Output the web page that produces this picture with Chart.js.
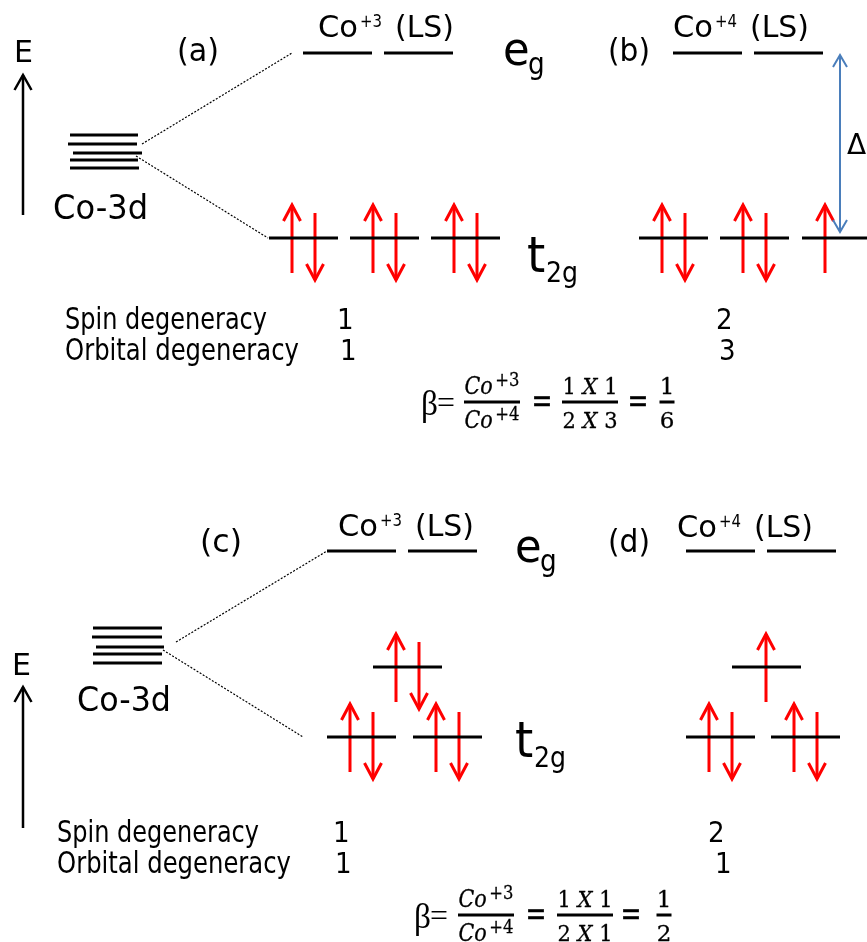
<!DOCTYPE html>
<html>
<head>
<meta charset="utf-8">
<title>Co-3d crystal field splitting</title>
<script src="https://cdn.jsdelivr.net/npm/chart.js@4.4.1/dist/chart.umd.min.js"></script>
<style>
  html, body { margin: 0; padding: 0; background: #ffffff; }
  canvas { display: block; }
</style>
</head>
<body>
<canvas id="diagram" width="867" height="942" style="width:867px;height:942px"></canvas>
<script>
// ---- data ----------------------------------------------------------------
const panelTags = ['(a)', '(b)', '(c)', '(d)'];
const ionCharges = ['+3', '+4', '+3', '+4'];
const spinStateTag = '(LS)';
const degeneracyRows = ['Spin degeneracy', 'Orbital degeneracy'];
const spinDegeneracy = [1, 2, 1, 2];
const orbitalDegeneracy = [1, 3, 1, 1];
// electrons held by each t2g orbital (panels c and d: upper orbital first)
const t2gElectrons = [[2, 2, 2], [2, 2, 1], [2, 2, 2], [1, 2, 2]];
// eg orbitals stay empty in the low-spin state
const egElectrons = [[0, 0], [0, 0], [0, 0], [0, 0]];
const d3SublevelCount = 5;

// ---- layout (diagram units, 1 unit = 1 px) --------------------------------
const LEVEL_LEN = 69;
const egLevelX = [[303, 384], [673, 754], [327, 408], [686, 767]];
const egLevelY = [53, 53, 551, 551];
const t2gLevelX = [[269, 350, 431], [639, 720, 802], [373, 327, 413], [732, 686, 771]];
const t2gLevelY = [[238, 238, 238], [238, 238, 238], [667, 737, 737], [667, 737, 737]];
const singleSpinOffset = [23, 23, 23, 34];
const stackLines = [
  [[70, 138, 135], [68, 137, 144], [73, 142, 153], [70, 138, 160], [70, 139, 168]],
  [[93, 162, 628], [92, 162, 637], [96, 164, 647], [93, 162, 654], [93, 162, 663]]
];
const connectors = [
  [142, 144, 292, 53], [136, 156, 268, 238],
  [176, 642, 327, 551], [163, 650, 303, 737]
];
const energyAxes = [[23, 75, 215], [23, 687, 828]];
const gapArrow = [840, 55, 232];

const RED = '#ff0000';
const BLACK = '#000000';
const BLUE = '#4a7ebb';
const SANS = '"DejaVu Sans", sans-serif';
const SERIF = '"DejaVu Serif", serif';
const TIMES = '"Liberation Serif", serif';

// ---- datasets ---------------------------------------------------------------
const datasets = [];
function addLine(points, color, width, dash) {
  datasets.push({
    data: points.map(([x, y]) => ({ x, y })),
    showLine: true,
    borderColor: color,
    borderWidth: width,
    borderDash: dash || [],
    borderCapStyle: 'butt',
    borderJoinStyle: 'miter',
    pointRadius: 0,
    pointHoverRadius: 0,
    fill: false,
    tension: 0
  });
}
function addArrow(x, tipY, tailY, color, width, halfW, headLen) {
  addLine([[x, tipY], [x, tailY]], color, width);
  const dir = tailY > tipY ? 1 : -1;
  addLine([[x - halfW, tipY + dir * headLen], [x, tipY], [x + halfW, tipY + dir * headLen]], color, width);
}
function addSpin(x, levelY, up) {
  if (up) addArrow(x, levelY - 33, levelY + 35, RED, 3, 8.5, 16);
  else addArrow(x, levelY + 42, levelY - 25, RED, 3, 8.5, 16);
}

// degenerate Co-3d levels
stackLines.forEach(stack => stack.slice(0, d3SublevelCount)
  .forEach(([x1, x2, y]) => addLine([[x1, y], [x2, y]], BLACK, 3.2)));
// splitting guides
connectors.forEach(([x1, y1, x2, y2]) => addLine([[x1, y1], [x2, y2]], BLACK, 1.2, [2, 1.6]));
// energy axes
energyAxes.forEach(([x, tip, tail]) => addArrow(x, tip, tail, BLACK, 2.5, 8.5, 15));
// crystal-field gap
addArrow(gapArrow[0], gapArrow[1], gapArrow[2], BLUE, 2, 7, 12);
addArrow(gapArrow[0], gapArrow[2], gapArrow[1], BLUE, 2, 7, 12);

for (let p = 0; p < panelTags.length; p++) {
  egLevelX[p].forEach((x1, i) => {
    addLine([[x1, egLevelY[p]], [x1 + LEVEL_LEN, egLevelY[p]]], BLACK, 3);
    const n = egElectrons[p][i];
    if (n >= 1) addSpin(x1 + 23, egLevelY[p], true);
    if (n >= 2) addSpin(x1 + 46, egLevelY[p], false);
  });
  t2gLevelX[p].forEach((x1, i) => {
    const y = t2gLevelY[p][i];
    addLine([[x1, y], [x1 + LEVEL_LEN, y]], BLACK, 3);
    const n = t2gElectrons[p][i];
    if (n === 1) addSpin(x1 + singleSpinOffset[p], y, true);
    if (n === 2) { addSpin(x1 + 23, y, true); addSpin(x1 + 46, y, false); }
  });
}

// ---- text ---------------------------------------------------------------------
function gcd(a, b) { return b ? gcd(b, a % b) : a; }

const panelTagPos = [[177, 61], [608, 61], [200, 552], [608, 552]];
const ionPos = [[318, 37], [673, 37], [338, 536], [677, 537]];
const egLabelPos = [[503, 65], [515, 562]];
const t2gLabelPos = [[527, 272], [515, 757]];
const rowLabelPos = [[65, [329, 360]], [57, [842, 873]]];
const valueX = [[337, 340], [716, 719], [333, 335], [708, 715]];
const betaPos = [
  { x: 421, base: 415, bar: 402, num: 394, den: 428, f: [492, 590, 667], eq: [542, 638] },
  { x: 414, base: 928, bar: 915, num: 907, den: 941, f: [486, 585, 664], eq: [536, 631] }
];

function drawText(ctx, s, x, y, size, o) {
  o = o || {};
  ctx.save();
  ctx.font = (o.italic ? 'italic ' : '') + size + 'px ' + (o.family || SANS);
  ctx.fillStyle = o.color || BLACK;
  ctx.textBaseline = 'alphabetic';
  ctx.textAlign = 'left';
  const w = ctx.measureText(s).width;
  const sx = o.width ? o.width / w : (o.sx || 1);
  ctx.translate(x, y);
  ctx.scale(sx, 1);
  ctx.fillText(s, 0, 0);
  if (o.weight) {
    ctx.strokeStyle = o.color || BLACK;
    ctx.lineWidth = o.weight;
    ctx.lineJoin = 'round';
    ctx.strokeText(s, 0, 0);
  }
  ctx.restore();
  return w * sx;
}
function runWidth(ctx, parts) {
  let w = 0;
  parts.forEach(pt => {
    ctx.font = (pt.italic ? 'italic ' : '') + pt.size + 'px ' + (pt.family || SERIF);
    w += ctx.measureText(pt.t).width + (pt.gap || 0);
  });
  return w;
}
// a run of differently styled pieces, centred on cx and stretched to a given width
function drawRun(ctx, parts, cx, y, width) {
  const natural = runWidth(ctx, parts);
  const sx = width ? width / natural : 1;
  ctx.save();
  ctx.translate(cx - natural * sx / 2, y);
  ctx.scale(sx, 1);
  let x = 0;
  parts.forEach(pt => {
    x += drawText(ctx, pt.t, x, pt.dy || 0, pt.size, { family: pt.family || SERIF, italic: pt.italic, weight: 0.3 });
    x += pt.gap || 0;
  });
  ctx.restore();
}
function ionRun(charge) {
  return [{ t: 'Co', size: 24, italic: true, gap: 3 }, { t: charge, size: 19, dy: -8 }];
}
function productRun(a, b) {
  return [{ t: a + ' ', size: 23 }, { t: 'X', size: 23, italic: true }, { t: ' ' + b, size: 23 }];
}

const textPlugin = {
  id: 'diagramText',
  afterDatasetsDraw(chart) {
    const ctx = chart.ctx;
    const X = v => chart.scales.x.getPixelForValue(v);
    const Y = v => chart.scales.y.getPixelForValue(v);

    // energy axis labels and Co-3d labels
    drawText(ctx, 'E', X(14), Y(62), 31, { width: 19 });
    drawText(ctx, 'E', X(12), Y(675), 31, { width: 19 });
    drawText(ctx, 'Co-3d', X(53), Y(219), 33, { width: 95 });
    drawText(ctx, 'Co-3d', X(77), Y(711), 33, { width: 94 });

    for (let p = 0; p < panelTags.length; p++) {
      drawText(ctx, panelTags[p], X(panelTagPos[p][0]), Y(panelTagPos[p][1]), 32, { width: 42 });
      const [ix, iy] = ionPos[p];
      drawText(ctx, 'Co', X(ix), Y(iy), 30, { width: 40 });
      drawText(ctx, ionCharges[p], X(ix + 42), Y(iy - 10), 18, { width: 22 });
      drawText(ctx, spinStateTag, X(ix + 77), Y(iy), 31, { width: 59 });
    }

    egLabelPos.forEach(([x, y]) => {
      drawText(ctx, 'e', X(x), Y(y), 47, { sx: 0.92 });
      drawText(ctx, 'g', X(x + 25), Y(y + 9), 31, { sx: 0.85 });
    });
    t2gLabelPos.forEach(([x, y]) => {
      drawText(ctx, 't', X(x), Y(y), 49, { sx: 0.95 });
      drawText(ctx, '2g', X(x + 19), Y(y + 10), 28, { sx: 0.9 });
    });
    drawText(ctx, '\u0394', X(847), Y(154), 28);

    // degeneracy rows
    rowLabelPos.forEach(([x, ys], half) => {
      drawText(ctx, degeneracyRows[0], X(x), Y(ys[0]), 30, { width: 202 });
      drawText(ctx, degeneracyRows[1], X(x), Y(ys[1]), 30, { width: 234 });
      for (let k = 0; k < 2; k++) {
        const p = half * 2 + k;
        drawText(ctx, String(spinDegeneracy[p]), X(valueX[p][0]), Y(ys[0]), 29, { sx: 0.9 });
        drawText(ctx, String(orbitalDegeneracy[p]), X(valueX[p][1]), Y(ys[1]), 29, { sx: 0.9 });
      }
    });

    // beta = ratio of degeneracy products
    betaPos.forEach((b, half) => {
      const p3 = half * 2, p4 = half * 2 + 1;
      const num = spinDegeneracy[p3] * orbitalDegeneracy[p3];
      const den = spinDegeneracy[p4] * orbitalDegeneracy[p4];
      const g = gcd(num, den);
      drawText(ctx, '\u03b2', X(b.x), Y(b.base), 36, { family: TIMES, width: 17 });
      drawText(ctx, '=', X(b.x + 16), Y(b.base - 2), 32, { family: TIMES, width: 18 });
      const fracs = [
        [ionRun(ionCharges[p3]), ionRun(ionCharges[p4]), 56],
        [productRun(spinDegeneracy[p3], orbitalDegeneracy[p3]), productRun(spinDegeneracy[p4], orbitalDegeneracy[p4]), 56],
        [[{ t: String(num / g), size: 23 }], [{ t: String(den / g), size: 23 }], 15]
      ];
      fracs.forEach(([top, bottom, w], i) => {
        const cx = X(b.f[i]);
        drawRun(ctx, top, cx, Y(b.num), w > 20 ? w - 1 : null);
        drawRun(ctx, bottom, cx, Y(b.den), w > 20 ? w - 1 : null);
        ctx.save();
        ctx.fillStyle = BLACK;
        ctx.fillRect(cx - w / 2, Y(b.bar) - 1.5, w, 3);
        ctx.restore();
      });
      b.eq.forEach(ex => drawRun(ctx, [{ t: '=', size: 34 }], X(ex), Y(b.bar) + 10, 21));
    });
  }
};

new Chart(document.getElementById('diagram'), {
  type: 'scatter',
  data: { datasets },
  options: {
    responsive: false,
    animation: false,
    devicePixelRatio: 1,
    events: [],
    layout: { padding: 0 },
    plugins: { legend: { display: false }, tooltip: { enabled: false } },
    scales: {
      x: { type: 'linear', min: 0, max: 867, display: false },
      y: { type: 'linear', min: 0, max: 942, reverse: true, display: false }
    }
  },
  plugins: [textPlugin]
});
</script>
</body>
</html>
